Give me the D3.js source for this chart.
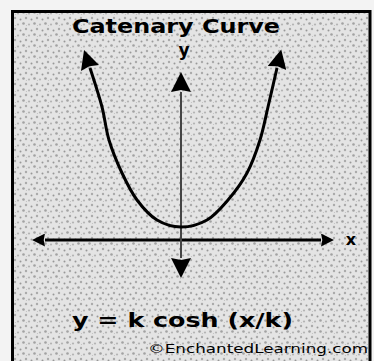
<!DOCTYPE html>
<html lang="en">
<head>
    <meta charset="UTF-8">
    <title>Catenary Curve</title>
    <script src="https://cdn.jsdelivr.net/npm/d3@7"></script>
    <style>
        body { margin: 0; background: #f3f3f3; }
        svg { display: block; }
    </style>
</head>
<body>
<svg width="374" height="361"></svg>
<script>
    // curve points (arrow bases at both ends)
    var curveX = [-4.55, -3.95, -3.6, -2.95, -2.2, -1.2, 0, 1.3, 2.35, 3.3, 3.95, 4.35, 4.8];
    var curveY = [8.6, 6.65, 5.0, 3.35, 2.0, 1.0, 0.65, 1.0, 2.0, 3.35, 5.0, 6.65, 8.6];
    // axis extents (arrow tips)
    var xAxisExtent = [-7.9, 8.1];
    var yAxisExtent = [-2.0, 8.5];

    var svg = d3.select('svg');

    var x = d3.scaleLinear().domain([-8, 8]).range([21, 341]);
    var y = d3.scaleLinear().domain([-2, 9]).range([280, 60]);

    // stipple texture
    var defs = svg.append('defs');
    var pat = defs.append('pattern')
        .attr('id', 'stipple')
        .attr('patternUnits', 'userSpaceOnUse')
        .attr('width', 11).attr('height', 11);
    pat.append('rect').attr('width', 11).attr('height', 11).attr('fill', '#e4e4e4');
    var blobs = [[1.5, 1.5, 1.3, '#a2a2a2'], [7, 2.5, 1.1, '#b4b4b4'],
                 [4, 7, 1.2, '#aaaaaa'], [9.5, 8.5, 1.0, '#989898'], [4.5, 3.5, 0.6, '#c0c0c0']];
    blobs.forEach(function(b) {
        pat.append('circle').attr('cx', b[0]).attr('cy', b[1]).attr('r', b[2]).attr('fill', b[3]);
    });

    function marker(id, len, wid) {
        defs.append('marker')
            .attr('id', id)
            .attr('viewBox', '0 0 10 10')
            .attr('refX', 0).attr('refY', 5)
            .attr('markerUnits', 'userSpaceOnUse')
            .attr('markerWidth', len).attr('markerHeight', wid)
            .attr('orient', 'auto-start-reverse')
          .append('path')
            .attr('d', 'M0,0 L10,5 L0,10 L1,5 z')
            .attr('fill', '#000');
    }
    marker('curveHead', 23, 19);
    marker('xHead', 22, 13);
    marker('yHead', 22, 20);

    // frame
    svg.append('rect')
        .attr('x', 12.5).attr('y', 11.5)
        .attr('width', 357.5).attr('height', 380)
        .attr('fill', 'url(#stipple)')
        .attr('stroke', '#000')
        .attr('stroke-width', 3);

    // x axis
    var xLen = 22;
    svg.append('line')
        .attr('x1', x(xAxisExtent[0]) + xLen).attr('x2', x(xAxisExtent[1]) - xLen)
        .attr('y1', y(0)).attr('y2', y(0))
        .attr('stroke', '#000').attr('stroke-width', 3)
        .attr('marker-start', 'url(#xHead)')
        .attr('marker-end', 'url(#xHead)');

    // y axis
    var yLen = 22;
    svg.append('line')
        .attr('x1', x(0)).attr('x2', x(0))
        .attr('y1', y(yAxisExtent[0]) - yLen).attr('y2', y(yAxisExtent[1]) + yLen)
        .attr('stroke', '#444').attr('stroke-width', 2)
        .attr('marker-start', 'url(#yHead)')
        .attr('marker-end', 'url(#yHead)');

    // catenary
    var pts = d3.zip(curveX, curveY);
    var line = d3.line()
        .x(function(d) { return x(d[0]); })
        .y(function(d) { return y(d[1]); })
        .curve(d3.curveCatmullRom);
    svg.append('path')
        .datum(pts)
        .attr('d', line)
        .attr('fill', 'none')
        .attr('stroke', '#000')
        .attr('stroke-width', 3)
        .attr('marker-start', 'url(#curveHead)')
        .attr('marker-end', 'url(#curveHead)');

    // texts
    var font = "'DejaVu Sans', sans-serif";
    svg.append('text')
        .attr('x', 72).attr('y', 33)
        .attr('textLength', 208).attr('lengthAdjust', 'spacingAndGlyphs')
        .style('font', 'bold 20px ' + font)
        .text('Catenary Curve');

    svg.append('text')
        .attr('x', 184).attr('y', 56)
        .attr('text-anchor', 'middle')
        .style('font', 'bold 17px ' + font)
        .text('y');

    svg.append('text')
        .attr('x', 351).attr('y', 245)
        .attr('text-anchor', 'middle')
        .style('font', 'bold 16px ' + font)
        .text('x');

    svg.append('text')
        .attr('x', 72).attr('y', 327)
        .attr('textLength', 221).attr('lengthAdjust', 'spacingAndGlyphs')
        .style('font', 'bold 20px ' + font)
        .text('y = k cosh (x/k)');

    svg.append('text')
        .attr('x', 148).attr('y', 353)
        .attr('textLength', 220).attr('lengthAdjust', 'spacingAndGlyphs')
        .style('font', '13px ' + font)
        .text('©EnchantedLearning.com');
</script>
</body>
</html>
